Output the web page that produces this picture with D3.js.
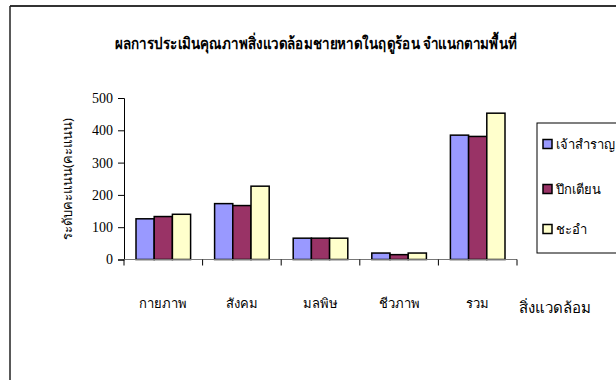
<!DOCTYPE html>
<html><head><meta charset="utf-8">
<script src="https://cdn.jsdelivr.net/npm/d3@7"></script>
<style>body{margin:0;background:#fff}svg{display:block}</style>
</head><body>
<script>
const categories = ["กายภาพ", "สังคม", "มลพิษ", "ชีวภาพ", "รวม"];
const seriesNames = ["เจ้าสำราญ", "ปึกเตียน", "ชะอำ"];
const chaoSamran = [126, 173, 66, 20, 385];
const puekTian = [133, 167, 66, 15, 381];
const chaAm = [140, 227, 66, 20, 453];
const yTicks = [0, 100, 200, 300, 400, 500];
const colors = ["#9999FF", "#993366", "#FFFFCC"];
const seriesValues = [chaoSamran, puekTian, chaAm];

const W = 616, H = 380;
const svg = d3.select("body").append("svg").attr("width", W).attr("height", H);

// outer border
svg.append("line").attr("x1", 10).attr("x2", W).attr("y1", 6).attr("y2", 6).attr("stroke", "#333").attr("stroke-width", 2);
svg.append("line").attr("x1", 10).attr("x2", 10).attr("y1", 6).attr("y2", H).attr("stroke", "#222").attr("stroke-width", 1.5);

const x0 = d3.scaleBand().domain(categories).range([124, 517]).paddingInner(0).paddingOuter(0);
const x1 = d3.scaleBand().domain(seriesNames).range([12, x0.bandwidth() - 12]);
const y = d3.scaleLinear().domain([0, 500]).range([259.5, 98]);

const thai = "'Noto Sans', 'DejaVu Sans', sans-serif";
const serif = "'Liberation Serif', 'Times New Roman', serif";

// title
svg.append("text").attr("x", 316).attr("y", 49).attr("text-anchor", "middle")
  .attr("font-family", thai).attr("font-weight", "bold").attr("font-size", 16)
  .attr("textLength", 402).attr("lengthAdjust", "spacingAndGlyphs")
  .text("ผลการประเมินคุณภาพสิ่งแวดล้อมชายหาดในฤดูร้อน จำแนกตามพื้นที่");

// bars
const g = svg.append("g");
categories.forEach((c, i) => {
  seriesNames.forEach((s, j) => {
    const v = seriesValues[j][i];
    g.append("rect").attr("x", x0(c) + x1(s)).attr("y", y(v))
      .attr("width", x1.bandwidth()).attr("height", y(0) - y(v))
      .attr("fill", colors[j]).attr("stroke", "#000").attr("stroke-width", 1.5);
  });
});

// y axis
const yAxis = svg.append("g").attr("transform", "translate(124,0)")
  .call(d3.axisLeft(y).tickValues(yTicks).tickSize(6).tickPadding(5).tickFormat(d3.format("d")));
yAxis.attr("font-family", serif).attr("font-size", 14);
yAxis.select(".domain").attr("stroke", "#000");
yAxis.selectAll("text").attr("fill", "#000");

// x axis
const xAxisG = svg.append("g").attr("transform", `translate(0,${y(0)})`);
xAxisG.append("line").attr("x1", 124).attr("x2", 517).attr("stroke", "#777").attr("stroke-width", 1.2);
const bounds = categories.map(c => x0(c)).concat([x0(categories[categories.length - 1]) + x0.bandwidth()]);
xAxisG.selectAll("line.tk").data(bounds).enter().append("line").attr("class", "tk")
  .attr("x1", d => d).attr("x2", d => d).attr("y1", 0).attr("y2", 6).attr("stroke", "#000");
xAxisG.selectAll("text").data(categories).enter().append("text")
  .attr("x", d => x0(d) + x0.bandwidth() / 2).attr("y", 48).attr("text-anchor", "middle")
  .attr("font-family", thai).attr("font-size", 13)
  .text(d => d);

// axis titles
svg.append("text").attr("x", 555).attr("y", 313).attr("text-anchor", "middle")
  .attr("font-family", thai).attr("font-size", 15)
  .text("สิ่งแวดล้อม");
svg.append("text").attr("transform", "translate(72,179) rotate(-90)").attr("text-anchor", "middle")
  .attr("font-family", thai).attr("font-size", 13)
  .text("ระดับคะแนน(คะแนน)");

// legend
svg.append("rect").attr("x", 537).attr("y", 123).attr("width", 90).attr("height", 130)
  .attr("fill", "#fff").attr("stroke", "#000").attr("stroke-width", 1);
const ly = [144, 189, 229];
seriesNames.forEach((s, j) => {
  svg.append("rect").attr("x", 543).attr("y", ly[j] - 4.5).attr("width", 9).attr("height", 9)
    .attr("fill", colors[j]).attr("stroke", "#000").attr("stroke-width", 1.5);
  svg.append("text").attr("x", 556).attr("y", ly[j] + 5)
    .attr("font-family", thai).attr("font-size", 13)
    .text(s);
});
</script>
</body></html>
